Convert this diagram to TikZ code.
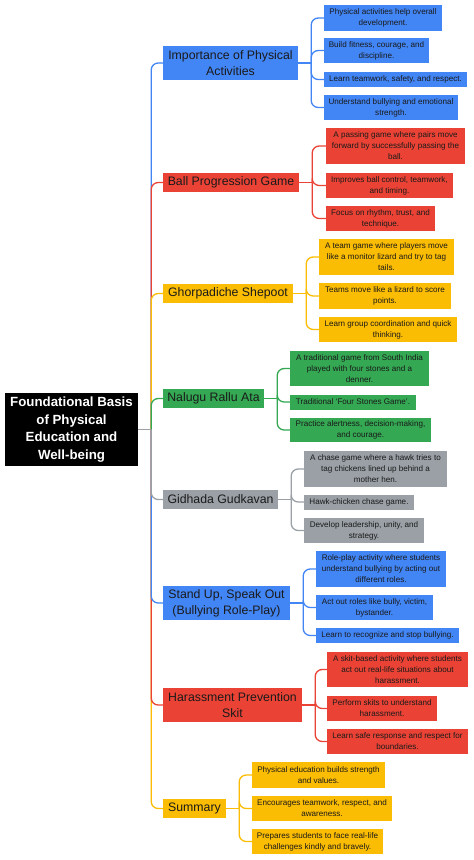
\documentclass[tikz,border=0pt]{standalone}
\usepackage{fontspec}
\setmainfont{Liberation Sans}
\definecolor{gblue}{HTML}{4285F4}
\definecolor{gred}{HTML}{EA4335}
\definecolor{gyellow}{HTML}{FBBC04}
\definecolor{ggreen}{HTML}{34A853}
\definecolor{ggray}{HTML}{9AA0A6}
\definecolor{ink}{HTML}{1A1A1A}
\begin{document}
\begin{tikzpicture}[x=1pt,y=-1pt,
  sz/.style 2 args={minimum width=#1pt,minimum height=#2pt},
  rootbox/.style={fill=black,text=white,font=\fontsize{13.3}{17.5}\selectfont\bfseries,align=center,inner sep=0pt},
  branchbox/.style={fill=#1,text=ink,font=\fontsize{12.3}{16}\selectfont,align=center,inner sep=0pt},
  leafbox/.style={fill=#1,text=ink,font=\fontsize{8.1}{11}\selectfont,align=center,inner sep=0pt},
  link/.style={draw=#1,line width=1.3pt,rounded corners=7pt}]
\useasboundingbox[fill=white] (0,0) rectangle (474,860);

% root
\node[rootbox,sz={133}{73}] (root) at (71.5,429.5) {Foundational Basis\\of Physical\\Education and\\Well-being};

% branches
\node[branchbox=gblue,sz={135}{34}] (b1) at (230.5,63) {Importance of Physical\\Activities};
\node[branchbox=gred,sz={136}{19}] (b2) at (231,182.5) {Ball Progression Game};
\node[branchbox=gyellow,sz={130}{19}] (b3) at (228,293.5) {Ghorpadiche Shepoot};
\node[branchbox=ggreen,sz={101}{19}] (b4) at (213.5,398.5) {Nalugu Rallu Ata};
\node[branchbox=ggray,sz={115}{19}] (b5) at (220.5,499.5) {Gidhada Gudkavan};
\node[branchbox=gblue,sz={127}{34}] (b6) at (226.5,603) {Stand Up, Speak Out\\(Bullying Role-Play)};
\node[branchbox=gred,sz={139}{34}] (b7) at (232.5,705) {Harassment Prevention\\Skit};
\node[branchbox=gyellow,sz={63}{19}] (b8) at (194.5,808.5) {Summary};

% leaves 1
\node[leafbox=gblue,sz={118}{26}] (l1a) at (383,18) {Physical activities help overall\\development.};
\node[leafbox=gblue,sz={105}{25}] (l1b) at (376.5,50.5) {Build fitness, courage, and\\discipline.};
\node[leafbox=gblue,sz={143}{15}] (l1c) at (395.5,79.5) {Learn teamwork, safety, and respect.};
\node[leafbox=gblue,sz={134}{25}] (l1d) at (391,107.5) {Understand bullying and emotional\\strength.};
% leaves 2
\node[leafbox=gred,sz={139}{36}] (l2a) at (395.5,146) {A passing game where pairs move\\forward by successfully passing the\\ball.};
\node[leafbox=gred,sz={127}{25}] (l2b) at (389.5,185.5) {Improves ball control, teamwork,\\and timing.};
\node[leafbox=gred,sz={109}{25}] (l2c) at (380.5,218.5) {Focus on rhythm, trust, and\\technique.};
% leaves 3
\node[leafbox=gyellow,sz={135}{36}] (l3a) at (386.5,257) {A team game where players move\\like a monitor lizard and try to tag\\tails.};
\node[leafbox=gyellow,sz={132}{26}] (l3b) at (385,296) {Teams move like a lizard to score\\points.};
\node[leafbox=gyellow,sz={138}{25}] (l3c) at (388,329.5) {Learn group coordination and quick\\thinking.};
% leaves 4
\node[leafbox=ggreen,sz={139}{35}] (l4a) at (359.5,368.5) {A traditional game from South India\\played with four stones and a\\denner.};
\node[leafbox=ggreen,sz={126}{15}] (l4b) at (353,402) {Traditional ‘Four Stones Game’.};
\node[leafbox=ggreen,sz={141}{24}] (l4c) at (360.5,430) {Practice alertness, decision-making,\\and courage.};
% leaves 5
\node[leafbox=ggray,sz={143}{36}] (l5a) at (375.5,469) {A chase game where a hawk tries to\\tag chickens lined up behind a\\mother hen.};
\node[leafbox=ggray,sz={110}{15}] (l5b) at (359,502) {Hawk-chicken chase game.};
\node[leafbox=ggray,sz={120}{25}] (l5c) at (364,530.5) {Develop leadership, unity, and\\strategy.};
% leaves 6
\node[leafbox=gblue,sz={130}{36}] (l6a) at (381,569) {Role-play activity where students\\understand bullying by acting out\\different roles.};
\node[leafbox=gblue,sz={117}{25}] (l6b) at (374.5,607.5) {Act out roles like bully, victim,\\bystander.};
\node[leafbox=gblue,sz={143}{15}] (l6c) at (387.5,635.5) {Learn to recognize and stop bullying.};
% leaves 7
\node[leafbox=gred,sz={141}{35}] (l7a) at (397.5,669.5) {A skit-based activity where students\\act out real-life situations about\\harassment.};
\node[leafbox=gred,sz={110}{25}] (l7b) at (382,708.5) {Perform skits to understand\\harassment.};
\node[leafbox=gred,sz={141}{25}] (l7c) at (397.5,741.5) {Learn safe response and respect for\\boundaries.};
% leaves 8
\node[leafbox=gyellow,sz={133}{26}] (l8a) at (318.5,775) {Physical education builds strength\\and values.};
\node[leafbox=gyellow,sz={140}{25}] (l8b) at (322,808.5) {Encourages teamwork, respect, and\\awareness.};
\node[leafbox=gyellow,sz={131}{25}] (l8c) at (317.5,841.5) {Prepares students to face real-life\\challenges kindly and bravely.};

% junctions
\coordinate (rj) at ([xshift=13pt]root.east);
\foreach \b in {1,...,8}{\coordinate (j\b) at ([xshift=13pt]b\b.east);}

% root to branches (far ones first)
\draw[link=gblue] (rj) |- (b1.west);
\draw[link=gyellow] (rj) |- (b8.west);
\draw[link=gred] (rj) |- (b2.west);
\draw[link=gred] (rj) |- (b7.west);
\draw[link=gyellow] (rj) |- (b3.west);
\draw[link=gblue] (rj) |- (b6.west);
\draw[link=ggreen] (rj) |- (b4.west);
\draw[link=ggray] (rj) |- (b5.west);
\draw[link=ggray] (root.east) -- (rj);

% branch to leaves
\draw[link=gblue] (b1.east) -- (j1);
\foreach \l in {a,b,c,d}{\draw[link=gblue] (j1) |- (l1\l.west);}
\draw[link=gred] (b2.east) -- (j2);
\foreach \l in {a,b,c}{\draw[link=gred] (j2) |- (l2\l.west);}
\draw[link=gyellow] (b3.east) -- (j3);
\foreach \l in {a,b,c}{\draw[link=gyellow] (j3) |- (l3\l.west);}
\draw[link=ggreen] (b4.east) -- (j4);
\foreach \l in {a,b,c}{\draw[link=ggreen] (j4) |- (l4\l.west);}
\draw[link=ggray] (b5.east) -- (j5);
\foreach \l in {a,b,c}{\draw[link=ggray] (j5) |- (l5\l.west);}
\draw[link=gblue] (b6.east) -- (j6);
\foreach \l in {a,b,c}{\draw[link=gblue] (j6) |- (l6\l.west);}
\draw[link=gred] (b7.east) -- (j7);
\foreach \l in {a,b,c}{\draw[link=gred] (j7) |- (l7\l.west);}
\draw[link=gyellow] (b8.east) -- (j8);
\foreach \l in {a,b,c}{\draw[link=gyellow] (j8) |- (l8\l.west);}
\end{tikzpicture}
\end{document}
